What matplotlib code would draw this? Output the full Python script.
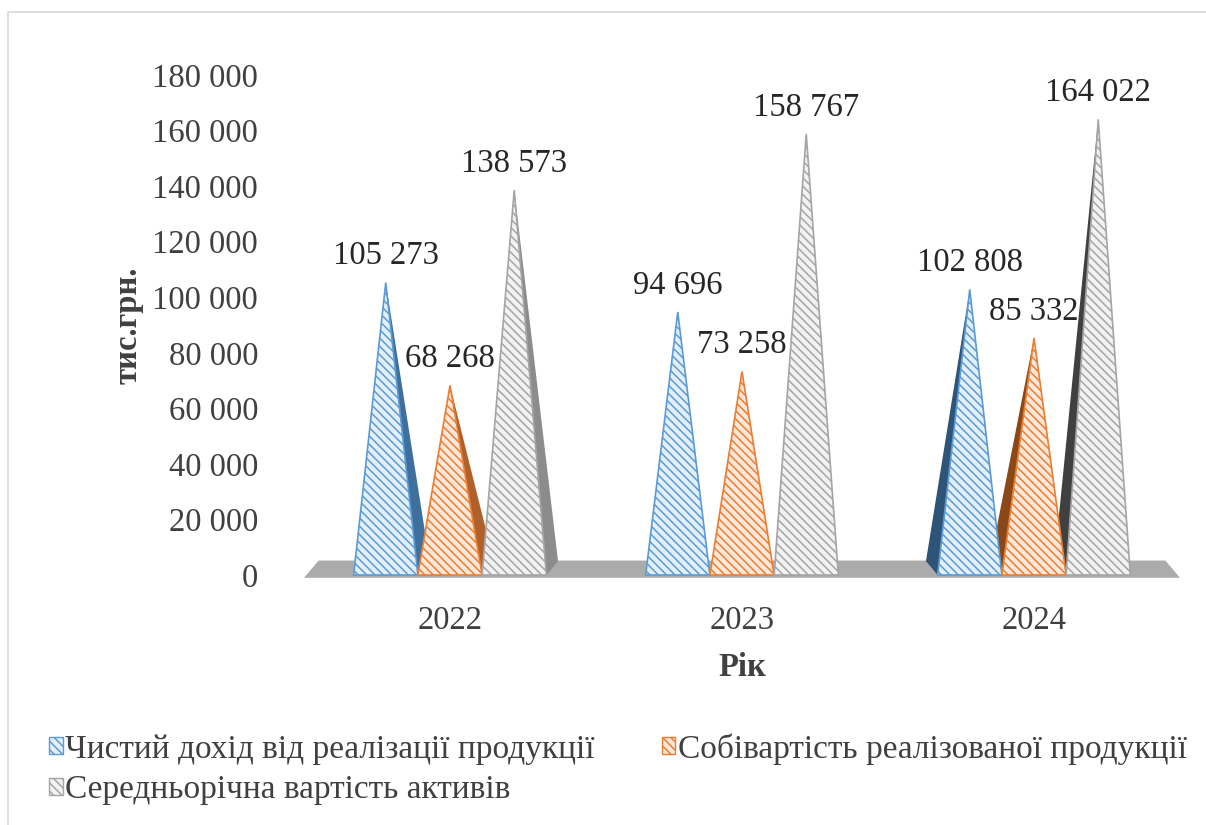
import matplotlib
matplotlib.use("Agg")
import matplotlib.pyplot as plt
from matplotlib.patches import Polygon, Rectangle, Patch
from matplotlib.ticker import FuncFormatter, MultipleLocator

years = ["2022", "2023", "2024"]
series_names = [
    "Чистий дохід від реалізації продукції",
    "Собівартість реалізованої продукції",
    "Середньорічна вартість активів",
]
revenue = [105273, 94696, 102808]
cost = [68268, 73258, 85332]
assets = [138573, 158767, 164022]
values = [revenue, cost, assets]

line_colors = ["#5B9BD5", "#ED7D31", "#A5A5A5"]
face_colors = ["#E3EFFA", "#FCE8DA", "#F2F2F2"]
side_colors = [["#3F6F9C", "#3F6F9C", "#2E5478"],
               ["#B0602A", "#B0602A", "#8A4818"],
               ["#8C8C8C", "#8C8C8C", "#404040"]]

plt.rcParams["font.family"] = ["Liberation Serif", "DejaVu Serif"]
plt.rcParams["hatch.linewidth"] = 1.1

FS = 23.5
fig = plt.figure(figsize=(12.06, 8.25), dpi=100)
fig.patch.set_facecolor("white")

W, H = 1206, 825
ax = fig.add_axes([304 / W, 1 - 590 / H, (1180 - 304) / W, (590 - 60) / H])
ax.set_xlim(0, 3)
for s in ax.spines.values():
    s.set_visible(False)

# floor slab
floor = Polygon([(0.0, -1000), (3.0, -1000), (2.95, 5200), (0.05, 5200)],
                closed=True, facecolor="#ABABAB", edgecolor="none", zorder=1)
ax.add_patch(floor)

bw = 0.22
side_dx = [0.04, 0.0, -0.04]
side_dy = 5000
for g in range(len(years)):
    center = g + 0.5
    for s in range(3):
        xc = center + (s - 1) * bw
        v = values[s][g]
        xl, xr = xc - bw / 2, xc + bw / 2
        if side_dx[g] > 0:
            pts = [(xc, v), (xr, 0), (xr + side_dx[g], side_dy)]
        elif side_dx[g] < 0:
            pts = [(xc, v), (xl, 0), (xl + side_dx[g], side_dy)]
        else:
            pts = None
        if pts is not None:
            ax.add_patch(Polygon(pts, closed=True, facecolor=side_colors[s][g],
                                 edgecolor="none", zorder=2))
for g in range(len(years)):
    center = g + 0.5
    for s in range(3):
        xc = center + (s - 1) * bw
        v = values[s][g]
        xl, xr = xc - bw / 2, xc + bw / 2
        ax.add_patch(Polygon([(xl, 0), (xr, 0), (xc, v)], closed=True,
                             facecolor=face_colors[s], edgecolor=line_colors[s],
                             hatch="\\\\\\\\", linewidth=1.2, zorder=3))
        ax.annotate(f"{v:,}".replace(",", " "), (xc, v), xytext=(0, 8),
                    textcoords="offset points", ha="center", va="bottom",
                    fontsize=FS, color="#262626", zorder=5)

ax.yaxis.set_major_locator(MultipleLocator(20000))
ax.set_ylim(-5400, 185400)
ax.yaxis.set_major_formatter(FuncFormatter(lambda v, p: f"{int(v):,}".replace(",", " ")))
ax.set_xticks([g + 0.5 for g in range(len(years))])
ax.set_xticklabels(years)
ax.tick_params(axis="both", length=0, labelsize=FS, labelcolor="#404040")
ax.tick_params(axis="y", pad=33)
ax.tick_params(axis="x", pad=11)
ax.set_xlabel("Рік", fontsize=FS, fontweight="bold", color="#404040", labelpad=12)
ax.set_ylabel("тис.грн.", fontsize=FS, fontweight="bold", color="#404040", labelpad=6)

# legend (order gives rows: A B / C)
handles = [Patch(facecolor=face_colors[i], edgecolor=line_colors[i], hatch="\\\\\\\\")
           for i in range(3)]
order = [0, 2, 1]
fig.legend([handles[i] for i in order], [series_names[i] for i in order],
           ncol=2, loc="upper left", bbox_to_anchor=(36 / W, 1 - 720 / H),
           frameon=False, fontsize=24, labelcolor="#404040",
           handlelength=0.4, handleheight=0.4, handletextpad=0.08,
           columnspacing=2.0, labelspacing=0.3, borderaxespad=0)

# outer frame
fig.add_artist(Rectangle((8 / W, -0.01), 1.02, 1 - 12 / H + 0.01, transform=fig.transFigure,
                         fill=False, edgecolor="#D9D9D9", linewidth=1.2))

fig.savefig("out.png", dpi=100, facecolor="white")
